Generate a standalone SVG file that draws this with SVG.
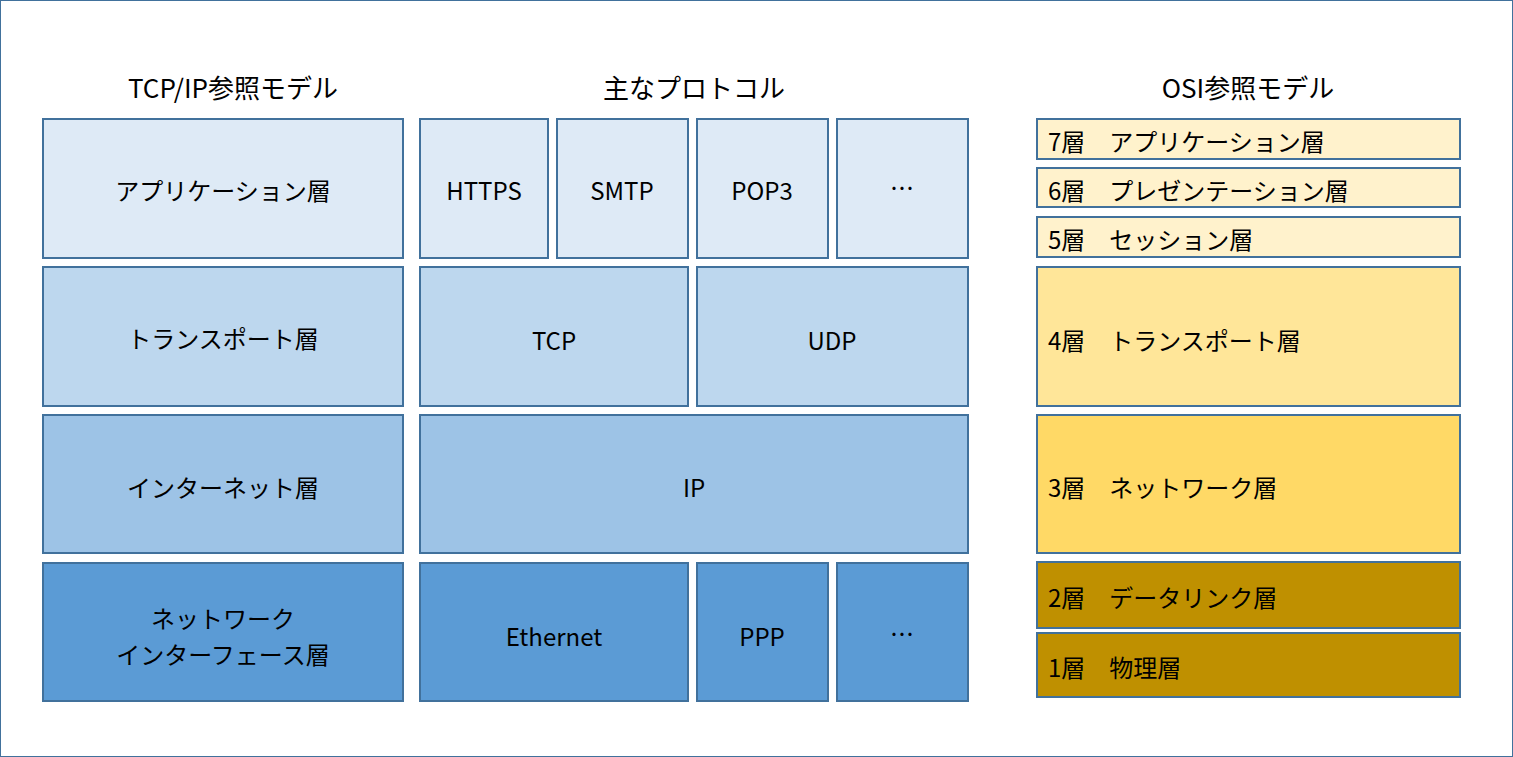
<svg xmlns="http://www.w3.org/2000/svg" width="1513" height="757" viewBox="0 0 1513 757">
<style>
rect{stroke:#41719C;stroke-width:2}
text{font-family:"Noto Sans CJK JP","Noto Sans",sans-serif;font-size:24px;fill:#000;dominant-baseline:central}
.c{text-anchor:middle}
.h{font-size:26px}
.a{fill:#DEEAF6}.t{fill:#BDD7EE}.i{fill:#9DC3E6}.n{fill:#5B9BD5}
.o1{fill:#FFF2CC}.o2{fill:#FFE699}.o3{fill:#FFD966}.o4{fill:#BF9000}
</style>
<rect width="1513" height="757" fill="#fff" stroke="none"/>
<g id="titles">
<text class="c h" x="233" y="86">TCP/IP参照モデル</text>
<text class="c h" x="694" y="86">主なプロトコル</text>
<text class="c h" x="1248" y="86">OSI参照モデル</text>
</g>
<g id="tcpip">
<g id="tcp-app"><rect class="a" x="43" y="119" width="360" height="139"/><text class="c" x="223" y="189">アプリケーション層</text></g>
<g id="tcp-trans"><rect class="t" x="43" y="267" width="360" height="139"/><text class="c" x="223" y="337">トランスポート層</text></g>
<g id="tcp-inet"><rect class="i" x="43" y="415" width="360" height="138"/><text class="c" x="223" y="486">インターネット層</text></g>
<g id="tcp-net"><rect class="n" x="43" y="563" width="360" height="138"/><text class="c" x="223" y="617">ネットワーク</text><text class="c" x="223" y="653">インターフェース層</text></g>
</g>
<g id="protocols">
<g id="p-https"><rect class="a" x="420" y="119" width="128" height="139"/><text class="c" x="484" y="189">HTTPS</text></g>
<g id="p-smtp"><rect class="a" x="557" y="119" width="131" height="139"/><text class="c" x="622" y="189">SMTP</text></g>
<g id="p-pop3"><rect class="a" x="697" y="119" width="131" height="139"/><text class="c" x="762" y="189">POP3</text></g>
<g id="p-etc1"><rect class="a" x="837" y="119" width="131" height="139"/><text class="c" x="902" y="186">…</text></g>
<g id="p-tcp"><rect class="t" x="420" y="267" width="268" height="139"/><text class="c" x="554" y="339">TCP</text></g>
<g id="p-udp"><rect class="t" x="697" y="267" width="271" height="139"/><text class="c" x="832" y="339">UDP</text></g>
<g id="p-ip"><rect class="i" x="420" y="415" width="548" height="138"/><text class="c" x="694" y="486">IP</text></g>
<g id="p-eth"><rect class="n" x="420" y="563" width="268" height="138"/><text class="c" x="554" y="635">Ethernet</text></g>
<g id="p-ppp"><rect class="n" x="697" y="563" width="131" height="138"/><text class="c" x="762" y="635">PPP</text></g>
<g id="p-etc2"><rect class="n" x="837" y="563" width="131" height="138"/><text class="c" x="902" y="632">…</text></g>
</g>
<g id="osi">
<g id="osi7"><rect class="o1" x="1037" y="119" width="423" height="40"/><text x="1048" y="140">7層　アプリケーション層</text></g>
<g id="osi6"><rect class="o1" x="1037" y="168" width="423" height="39"/><text x="1048" y="189">6層　プレゼンテーション層</text></g>
<g id="osi5"><rect class="o1" x="1037" y="217" width="423" height="40"/><text x="1048" y="238">5層　セッション層</text></g>
<g id="osi4"><rect class="o2" x="1037" y="267" width="423" height="139"/><text x="1048" y="339">4層　トランスポート層</text></g>
<g id="osi3"><rect class="o3" x="1037" y="415" width="423" height="138"/><text x="1048" y="486">3層　ネットワーク層</text></g>
<g id="osi2"><rect class="o4" x="1037" y="562" width="423" height="66"/><text x="1048" y="596">2層　データリンク層</text></g>
<g id="osi1"><rect class="o4" x="1037" y="633" width="423" height="64"/><text x="1048" y="666">1層　物理層</text></g>
</g>
<g id="connectors"/>
</svg>
